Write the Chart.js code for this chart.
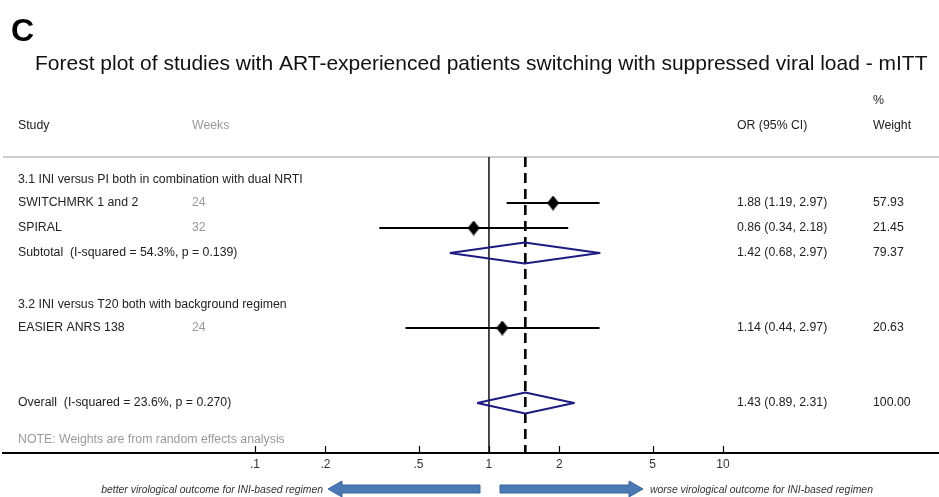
<!DOCTYPE html>
<html>
<head>
<meta charset="utf-8">
<script src="https://cdn.jsdelivr.net/npm/chart.js@4/dist/chart.umd.min.js"></script>
<style>
  html, body { margin: 0; padding: 0; background: #fff; }
  canvas { display: block; }
</style>
</head>
<body>
<canvas id="forest" width="939" height="497"></canvas>
<script>
// ---- data ----
const studyNames   = ['SWITCHMRK 1 and 2', 'SPIRAL', 'EASIER ANRS 138'];
const studyWeeks   = ['24', '32', '24'];
const studyRows    = [1, 2, 6];
const studyOR      = [1.88, 0.86, 1.14];
const studyLo      = [1.19, 0.34, 0.44];
const studyHi      = [2.97, 2.18, 2.97];
const studyWeight  = ['57.93', '21.45', '20.63'];

const pooledNames  = ['Subtotal  (I-squared = 54.3%, p = 0.139)', 'Overall  (I-squared = 23.6%, p = 0.270)'];
const pooledRows   = [3, 9];
const pooledOR     = [1.42, 1.43];
const pooledLo     = [0.68, 0.89];
const pooledHi     = [2.97, 2.31];
const pooledWeight = ['79.37', '100.00'];

const groupNames   = ['3.1 INI versus PI both in combination with dual NRTI', '3.2 INI versus T20 both with background regimen'];
const groupRows    = [0, 5];

const tickValues   = [0.1, 0.2, 0.5, 1, 2, 5, 10];
const tickLabels   = ['.1', '.2', '.5', '1', '2', '5', '10'];

// ---- layout constants ----
const Y_MIN = -0.84, Y_MAX = 11;
const DIAMOND_HALF = 0.42;
const FONT = '"Liberation Sans", Arial, Helvetica, sans-serif';
const fmt = v => v.toFixed(2);
const orText = (o, l, h) => `${fmt(o)} (${fmt(l)}, ${fmt(h)})`;

// slightly tall filled diamond used for the study estimates
function makeMarker(w, h) {
  const c = document.createElement('canvas');
  c.width = w; c.height = h;
  const g = c.getContext('2d');
  g.fillStyle = '#000';
  g.beginPath();
  g.moveTo(w / 2, 0);
  g.lineTo(w, h / 2);
  g.lineTo(w / 2, h);
  g.lineTo(0, h / 2);
  g.closePath();
  g.fill();
  return c;
}
const marker = makeMarker(12, 15);

const datasets = [];

// study point estimates
datasets.push({
  type: 'scatter',
  data: studyOR.map((v, i) => ({ x: v, y: studyRows[i] })),
  pointStyle: marker,
  pointRadius: 7
});

// confidence intervals
studyOR.forEach((v, i) => {
  datasets.push({
    type: 'line',
    data: [{ x: studyLo[i], y: studyRows[i] }, { x: studyHi[i], y: studyRows[i] }],
    borderColor: '#000',
    borderWidth: 2,
    pointRadius: 0
  });
});

// pooled diamonds
pooledOR.forEach((v, i) => {
  const r = pooledRows[i];
  datasets.push({
    type: 'line',
    data: [
      { x: pooledLo[i], y: r },
      { x: v, y: r - DIAMOND_HALF },
      { x: pooledHi[i], y: r },
      { x: v, y: r + DIAMOND_HALF },
      { x: pooledLo[i], y: r }
    ],
    borderColor: '#1c1c80',
    borderWidth: 2,
    borderJoinStyle: 'round',
    pointRadius: 0,
    tension: 0
  });
});

// overall estimate reference (dashed)
datasets.push({
  type: 'line',
  data: [{ x: pooledOR[1], y: Y_MIN }, { x: pooledOR[1], y: Y_MAX }],
  borderColor: '#000',
  borderWidth: 2.6,
  borderDash: [10, 6],
  pointRadius: 0
});

// line of no effect
datasets.push({
  type: 'line',
  data: [{ x: 1, y: Y_MIN }, { x: 1, y: Y_MAX }],
  borderColor: '#000',
  borderWidth: 1.4,
  pointRadius: 0
});

function arrow(ctx, tail, tip, y) {
  const dir = Math.sign(tip - tail);
  const headLen = 14, bodyH = 4, headH = 8;
  const neck = tip - dir * headLen;
  ctx.beginPath();
  ctx.moveTo(tail, y - bodyH);
  ctx.lineTo(neck, y - bodyH);
  ctx.lineTo(neck, y - headH);
  ctx.lineTo(tip, y);
  ctx.lineTo(neck, y + headH);
  ctx.lineTo(neck, y + bodyH);
  ctx.lineTo(tail, y + bodyH);
  ctx.closePath();
  ctx.fillStyle = '#4a79b3';
  ctx.fill();
  ctx.strokeStyle = '#3a659c';
  ctx.lineWidth = 1;
  ctx.stroke();
}

const forestText = {
  id: 'forestText',
  beforeDraw(chart) {
    const { ctx, chartArea } = chart;
    ctx.save();
    ctx.fillStyle = '#fff';
    ctx.fillRect(0, 0, chart.width, chart.height);
    // header separator
    ctx.strokeStyle = '#cfcfcf';
    ctx.lineWidth = 2;
    ctx.beginPath();
    ctx.moveTo(chartArea.left, chartArea.top);
    ctx.lineTo(chartArea.right, chartArea.top);
    ctx.stroke();
    ctx.restore();
  },
  afterDraw(chart) {
    const { ctx } = chart;
    const ys = chart.scales.y;
    const xs = chart.scales.x;
    const rowY = r => ys.getPixelForValue(r);
    ctx.save();
    ctx.textBaseline = 'middle';
    ctx.textAlign = 'left';

    // panel letter and title
    ctx.fillStyle = '#000';
    ctx.font = `bold 32px ${FONT}`;
    ctx.fillText('C', 11, 32);
    ctx.fillStyle = '#111';
    ctx.font = `21px ${FONT}`;
    ctx.fillText('Forest plot of studies with ART-experienced patients switching with suppressed viral load - mITT', 35, 64);

    const dark = '#222', grey = '#9a9a9a';
    ctx.font = `12.3px ${FONT}`;
    const COL_STUDY = 18, COL_WEEKS = 192, COL_OR = 737, COL_W = 873;

    // column headings
    ctx.fillStyle = dark;
    ctx.fillText('Study', COL_STUDY, 126);
    ctx.fillText('OR (95% CI)', COL_OR, 126);
    ctx.fillText('%', COL_W, 101);
    ctx.fillText('Weight', COL_W, 126);
    ctx.fillStyle = grey;
    ctx.fillText('Weeks', COL_WEEKS, 126);

    // subgroup headings
    ctx.fillStyle = dark;
    groupNames.forEach((g, i) => ctx.fillText(g, COL_STUDY, rowY(groupRows[i]) + 2));

    // study rows
    studyNames.forEach((n, i) => {
      const y = rowY(studyRows[i]);
      ctx.fillStyle = dark;
      ctx.fillText(n, COL_STUDY, y);
      ctx.fillText(orText(studyOR[i], studyLo[i], studyHi[i]), COL_OR, y);
      ctx.fillText(studyWeight[i], COL_W, y);
      ctx.fillStyle = grey;
      ctx.fillText(studyWeeks[i], COL_WEEKS, y);
    });

    // pooled rows
    pooledNames.forEach((n, i) => {
      const y = rowY(pooledRows[i]);
      ctx.fillStyle = dark;
      ctx.fillText(n, COL_STUDY, y);
      ctx.fillText(orText(pooledOR[i], pooledLo[i], pooledHi[i]), COL_OR, y);
      ctx.fillText(pooledWeight[i], COL_W, y);
    });

    ctx.fillStyle = grey;
    ctx.fillText('NOTE: Weights are from random effects analysis', COL_STUDY, rowY(10.45));

    // tick marks pointing up from the axis
    ctx.strokeStyle = '#000';
    ctx.lineWidth = 1.2;
    const yb = chart.chartArea.bottom;
    tickValues.forEach(v => {
      const x = Math.round(xs.getPixelForValue(v)) + 0.5;
      ctx.beginPath();
      ctx.moveTo(x, yb);
      ctx.lineTo(x, yb - 7);
      ctx.stroke();
    });

    // direction arrows
    arrow(ctx, 480, 328, 489);
    arrow(ctx, 500, 643, 489);
    ctx.fillStyle = '#333';
    ctx.font = `italic 10.4px ${FONT}`;
    ctx.textAlign = 'right';
    ctx.fillText('better virological outcome for INI-based regimen', 323, 490);
    ctx.textAlign = 'left';
    ctx.fillText('worse virological outcome for INI-based regimen', 650, 490);
    ctx.restore();
  }
};

new Chart(document.getElementById('forest'), {
  data: { datasets },
  options: {
    responsive: false,
    animation: false,
    devicePixelRatio: 1,
    layout: { autoPadding: false, padding: { top: 157, left: 3, right: 0, bottom: 0 } },
    plugins: { legend: { display: false }, tooltip: { enabled: false } },
    scales: {
      x: {
        type: 'logarithmic',
        position: 'bottom',
        min: 0.00838,
        max: 83.8,
        bounds: 'data',
        afterBuildTicks: s => { s.ticks = tickValues.map(v => ({ value: v })); },
        afterFit: s => { s.height = 44; },
        grid: { display: false, drawTicks: false },
        border: { display: true, color: '#000', width: 2 },
        ticks: {
          autoSkip: false,
          maxRotation: 0,
          padding: 4,
          color: '#333',
          font: { family: FONT, size: 12 },
          callback: (v) => {
            const i = tickValues.indexOf(v);
            return i >= 0 ? tickLabels[i] : '';
          }
        }
      },
      y: {
        type: 'linear',
        display: false,
        min: Y_MIN,
        max: Y_MAX,
        reverse: true
      }
    }
  },
  plugins: [forestText]
});
</script>
</body>
</html>
